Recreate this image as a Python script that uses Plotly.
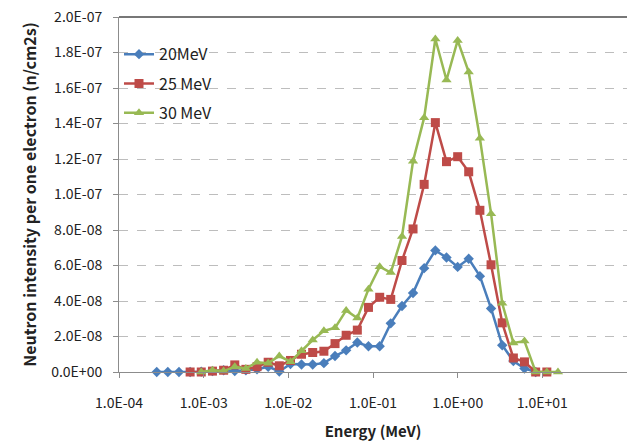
import plotly.graph_objects as go

# Energy grid (MeV)
energy = [2.79e-4, 3.77e-4, 5.11e-4, 6.92e-4, 9.37e-4, 1.27e-3, 1.72e-3, 2.33e-3,
          3.15e-3, 4.27e-3, 5.78e-3, 7.82e-3, 1.06e-2, 1.43e-2, 1.94e-2, 2.63e-2,
          3.56e-2, 4.82e-2, 6.53e-2, 8.84e-2, 0.120, 0.162, 0.220, 0.297, 0.402,
          0.545, 0.738, 1.00, 1.35, 1.83, 2.48, 3.36, 4.55, 6.15, 8.34, 11.3, 15.3]

# Neutron intensity per electron (n/cm2s)
e20 = [0.0, 0.0, 0.0, 0.0, 0.02e-8, 0.05e-8, 0.10e-8, 0.05e-8, 0.10e-8, 0.15e-8,
       0.30e-8, 0.03e-8, 0.45e-8, 0.42e-8, 0.42e-8, 0.50e-8, 0.90e-8, 1.22e-8,
       1.66e-8, 1.45e-8, 1.45e-8, 2.74e-8, 3.72e-8, 4.45e-8, 5.85e-8, 6.85e-8,
       6.45e-8, 5.92e-8, 6.38e-8, 5.40e-8, 3.58e-8, 1.51e-8, 0.62e-8, 0.20e-8, 0.0]
e25 = [0.0, 0.0, 0.05e-8, 0.10e-8, 0.40e-8, 0.15e-8, 0.30e-8, 0.55e-8, 0.35e-8,
       0.65e-8, 1.00e-8, 1.10e-8, 1.17e-8, 1.60e-8, 2.07e-8, 2.36e-8, 3.64e-8,
       4.21e-8, 4.09e-8, 6.28e-8, 8.06e-8, 10.57e-8, 14.05e-8, 11.85e-8, 12.13e-8,
       11.28e-8, 9.11e-8, 6.04e-8, 2.77e-8, 0.79e-8, 0.57e-8, 0.0, 0.0]
e30 = [0.0, 0.10e-8, 0.05e-8, 0.30e-8, 0.20e-8, 0.55e-8, 0.50e-8, 0.90e-8, 0.58e-8,
       1.20e-8, 1.80e-8, 2.32e-8, 2.49e-8, 3.47e-8, 3.04e-8, 4.66e-8, 5.93e-8,
       5.60e-8, 7.64e-8, 11.87e-8, 14.33e-8, 18.76e-8, 16.45e-8, 18.68e-8, 16.90e-8,
       13.17e-8, 8.92e-8, 3.87e-8, 1.64e-8, 1.74e-8, 0.0, 0.0, 0.0]

x20 = energy[0:35]
x25 = energy[3:36]
x30 = energy[4:37]

xtick_vals = [1e-4, 1e-3, 1e-2, 1e-1, 1e0, 1e1]
xtick_text = ["1.0E-04", "1.0E-03", "1.0E-02", "1.0E-01", "1.0E+00", "1.0E+01"]
ytick_vals = [0, 2e-8, 4e-8, 6e-8, 8e-8, 1e-7, 1.2e-7, 1.4e-7, 1.6e-7, 1.8e-7, 2e-7]
ytick_text = ["0.0E+00", "2.0E-08", "4.0E-08", "6.0E-08", "8.0E-08", "1.0E-07",
              "1.2E-07", "1.4E-07", "1.6E-07", "1.8E-07", "2.0E-07"]

names = ["20MeV", "25 MeV", "30 MeV"]
colors = ["#4A7EBB", "#BE4B48", "#98B954"]
symbols = ["diamond", "square", "triangle-up"]
sizes = [8, 9, 9]

FONT = "Noto Sans CJK KR"

fig = go.Figure()
for xs, ys, nm, c, s, sz in zip([x20, x25, x30], [e20, e25, e30], names, colors, symbols, sizes):
    fig.add_trace(go.Scatter(
        x=xs, y=ys, name=nm, mode="lines+markers",
        line=dict(color=c, width=2.5),
        marker=dict(symbol=s, size=sz, color=c),
        legendgroup=nm, cliponaxis=False,
    ))

fig.update_layout(
    width=628, height=441,
    margin=dict(l=119, r=1, t=17, b=69),
    paper_bgcolor="white", plot_bgcolor="white",
    font=dict(family=FONT, size=14, color="#222222"),
    showlegend=True,
    legend=dict(x=0.0, y=0.943, xanchor="left", yanchor="top",
                bgcolor="rgba(0,0,0,0)", font=dict(size=16, color="#222222"),
                tracegroupgap=5.5, itemwidth=30),
    xaxis=dict(
        type="log", range=[-4, 2],
        tickvals=xtick_vals, ticktext=xtick_text,
        ticks="outside", ticklen=5, tickcolor="#8C8C8C",
        showline=True, linecolor="#8C8C8C", linewidth=1,
        showgrid=False, zeroline=False,
        ticklabelstandoff=13,
        title=dict(text="<b>Energy (MeV)</b>", font=dict(size=15), standoff=16),
    ),
    yaxis=dict(
        range=[0, 2e-7],
        tickvals=ytick_vals, ticktext=ytick_text,
        ticks="outside", ticklen=5, tickcolor="#8C8C8C",
        showline=True, linecolor="#8C8C8C", linewidth=1,
        showgrid=True, gridcolor="#BDBDBD", griddash="dash", gridwidth=1,
        zeroline=False,
        ticklabelstandoff=8,
        title=dict(text="<b>Neutron intensity per one electron (n/cm2s)</b>",
                   font=dict(size=16), standoff=10),
    ),
    shapes=[dict(type="line", xref="paper", yref="paper", x0=0, x1=1, y0=1, y1=1,
                 line=dict(color="#4A4A4A", width=1.5))],
)

fig.write_html("out.html")
